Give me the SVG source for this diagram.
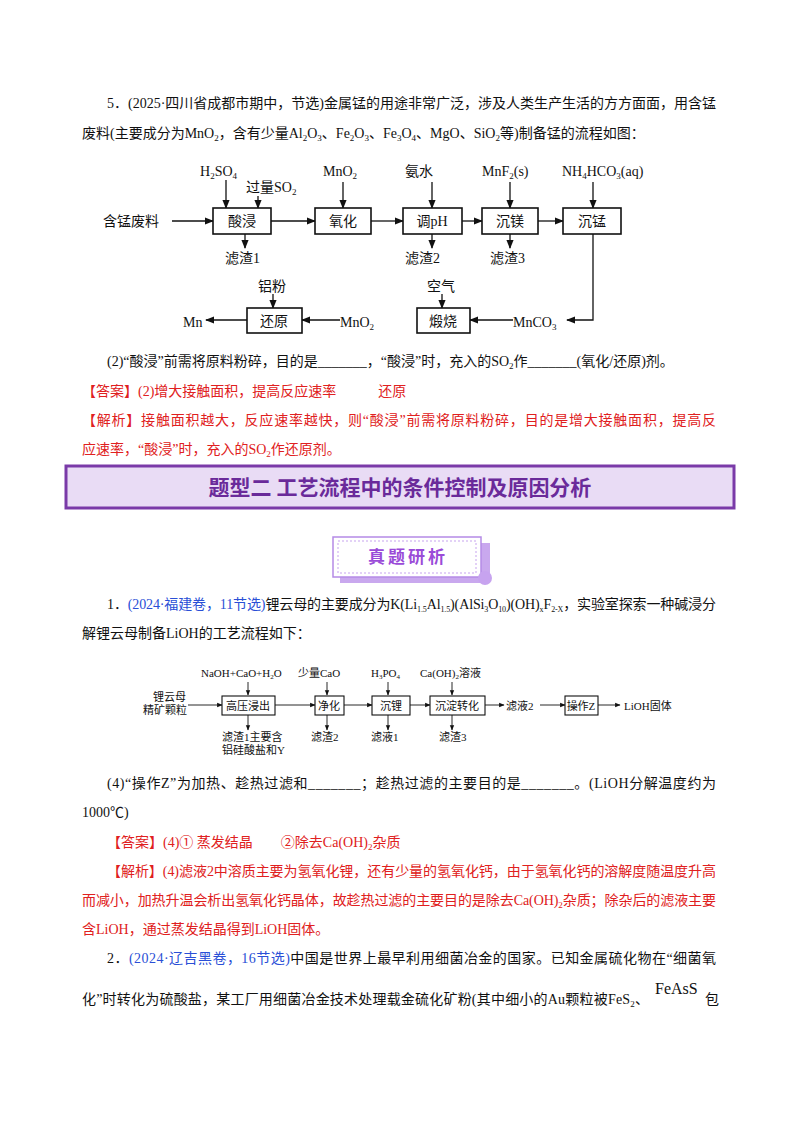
<svg xmlns="http://www.w3.org/2000/svg" width="800" height="1132" viewBox="0 0 800 1132">
<defs>
<style>
text{font-family:"Liberation Serif","Noto Sans CJK SC",serif;font-size:14px;fill:#111}
.d{font-size:14px}
.s{font-size:11px}
.red{fill:#e02020}
.blue{fill:#2a4fd6}
.box{fill:#fff;stroke:#111;stroke-width:1.6}
.box2{fill:#fff;stroke:#111;stroke-width:1.1}
.ln{stroke:#111;stroke-width:1.3;fill:none}
.ln2{stroke:#111;stroke-width:0.9;fill:none}
</style>
<marker id="a" viewBox="0 0 10 10" refX="9" refY="5" markerWidth="7" markerHeight="7" orient="auto"><path d="M0,1L10,5L0,9z" fill="#111"/></marker>
<marker id="b" viewBox="0 0 10 10" refX="9" refY="5" markerWidth="6" markerHeight="6" orient="auto"><path d="M0,1L10,5L0,9z" fill="#111"/></marker>
</defs>
<rect width="800" height="1132" fill="#fff"/>

<text x="107" y="108" textLength="609" lengthAdjust="spacing">5．(2025·四川省成都市期中，节选)金属锰的用途非常广泛，涉及人类生产生活的方方面面，用含锰</text>
<text x="82" y="138">废料(主要成分为MnO<tspan font-size="9" dy="3">2</tspan><tspan dy="-3">，含有少量Al</tspan><tspan font-size="9" dy="3">2</tspan><tspan dy="-3">O</tspan><tspan font-size="9" dy="3">3</tspan><tspan dy="-3">、Fe</tspan><tspan font-size="9" dy="3">2</tspan><tspan dy="-3">O</tspan><tspan font-size="9" dy="3">3</tspan><tspan dy="-3">、Fe</tspan><tspan font-size="9" dy="3">3</tspan><tspan dy="-3">O</tspan><tspan font-size="9" dy="3">4</tspan><tspan dy="-3">、MgO、SiO</tspan><tspan font-size="9" dy="3">2</tspan><tspan dy="-3">等)制备锰的流程如图：</tspan></text>

<g id="connectors1">
<line class="ln" x1="172" y1="221" x2="213" y2="221" marker-end="url(#a)"/>
<line class="ln" x1="271" y1="221" x2="315" y2="221" marker-end="url(#a)"/>
<line class="ln" x1="371" y1="221" x2="403" y2="221" marker-end="url(#a)"/>
<line class="ln" x1="462" y1="221" x2="482" y2="221" marker-end="url(#a)"/>
<line class="ln" x1="538" y1="221" x2="563" y2="221" marker-end="url(#a)"/>
<line class="ln" x1="226" y1="180" x2="226" y2="208" marker-end="url(#a)"/>
<line class="ln" x1="258" y1="196" x2="258" y2="208" marker-end="url(#a)"/>
<line class="ln" x1="343" y1="182" x2="343" y2="208" marker-end="url(#a)"/>
<line class="ln" x1="432" y1="182" x2="432" y2="208" marker-end="url(#a)"/>
<line class="ln" x1="510" y1="182" x2="510" y2="208" marker-end="url(#a)"/>
<line class="ln" x1="593" y1="182" x2="593" y2="208" marker-end="url(#a)"/>
<line class="ln" x1="245" y1="234" x2="245" y2="248" marker-end="url(#a)"/>
<line class="ln" x1="432" y1="234" x2="432" y2="248" marker-end="url(#a)"/>
<line class="ln" x1="510" y1="234" x2="510" y2="248" marker-end="url(#a)"/>
<polyline class="ln" points="593,234 593,320 567,320" marker-end="url(#a)"/>
<line class="ln" x1="513" y1="320" x2="470" y2="320" marker-end="url(#a)"/>
<line class="ln" x1="340" y1="320" x2="302" y2="320" marker-end="url(#a)"/>
<line class="ln" x1="247" y1="320" x2="206" y2="320" marker-end="url(#a)"/>
<line class="ln" x1="442" y1="294" x2="442" y2="308" marker-end="url(#a)"/>
<line class="ln" x1="273" y1="294" x2="273" y2="308" marker-end="url(#a)"/>
</g>
<g id="n-suanjin"><rect class="box" x="213" y="208" width="58" height="26"/><text class="d" x="242" y="226" text-anchor="middle">酸浸</text></g>
<g id="n-yanghua"><rect class="box" x="315" y="208" width="56" height="26"/><text class="d" x="343" y="226" text-anchor="middle">氧化</text></g>
<g id="n-tiaoph"><rect class="box" x="403" y="208" width="59" height="26"/><text class="d" x="432" y="226" text-anchor="middle">调pH</text></g>
<g id="n-chenmei"><rect class="box" x="482" y="208" width="56" height="26"/><text class="d" x="510" y="226" text-anchor="middle">沉镁</text></g>
<g id="n-chenmeng"><rect class="box" x="563" y="208" width="58" height="26"/><text class="d" x="592" y="226" text-anchor="middle">沉锰</text></g>
<g id="n-duanshao"><rect class="box" x="417" y="308" width="53" height="25"/><text class="d" x="443" y="326" text-anchor="middle">煅烧</text></g>
<g id="n-huanyuan"><rect class="box" x="247" y="308" width="55" height="25"/><text class="d" x="274" y="326" text-anchor="middle">还原</text></g>
<g id="labels1">
<text class="d" x="103" y="226">含锰废料</text>
<text class="d" x="200" y="176">H<tspan font-size="9" dy="3">2</tspan><tspan dy="-3">SO</tspan><tspan font-size="9" dy="3">4</tspan></text>
<text class="d" x="246" y="192">过量SO<tspan font-size="9" dy="3">2</tspan></text>
<text class="d" x="323" y="176">MnO<tspan font-size="9" dy="3">2</tspan></text>
<text class="d" x="405" y="176">氨水</text>
<text class="d" x="482" y="176">MnF<tspan font-size="9" dy="3">2</tspan><tspan dy="-3">(s)</tspan></text>
<text class="d" x="562" y="176">NH<tspan font-size="9" dy="3">4</tspan><tspan dy="-3">HCO</tspan><tspan font-size="9" dy="3">3</tspan><tspan dy="-3">(aq)</tspan></text>
<text class="d" x="225" y="263">滤渣1</text>
<text class="d" x="405" y="263">滤渣2</text>
<text class="d" x="490" y="263">滤渣3</text>
<text class="d" x="258" y="291">铝粉</text>
<text class="d" x="427" y="291">空气</text>
<text class="d" x="513" y="327">MnCO<tspan font-size="9" dy="3">3</tspan></text>
<text class="d" x="340" y="327">MnO<tspan font-size="9" dy="3">2</tspan></text>
<text class="d" x="183" y="327">Mn</text>
</g>

<text x="107" y="366">(2)“酸浸”前需将原料粉碎，目的是_______，“酸浸”时，充入的SO<tspan font-size="9" dy="3">2</tspan><tspan dy="-3">作_______(氧化/还原)剂。</tspan></text>
<text x="82" y="396" class="red">【答案】(2)增大接触面积，提高反应速率　　　还原</text>
<text x="82" y="425" class="red" textLength="634" lengthAdjust="spacing">【解析】接触面积越大，反应速率越快，则“酸浸”前需将原料粉碎，目的是增大接触面积，提高反</text>
<text x="82" y="454" class="red">应速率，“酸浸”时，充入的SO<tspan font-size="9" dy="3">2</tspan><tspan dy="-3">作还原剂。</tspan></text>

<g id="banner">
<rect x="66" y="466" width="668" height="42" fill="#e9dcf5" stroke="#7a3aa8" stroke-width="3"/>
<text x="400" y="495" text-anchor="middle" style="font-family:'Noto Sans CJK SC',sans-serif;font-size:21px;font-weight:bold;fill:#6a2a9a">题型二  工艺流程中的条件控制及原因分析</text>
</g>
<g id="badge">
<rect x="340" y="543" width="150" height="40" fill="#c9a8ee"/>
<rect x="333" y="537" width="148" height="40" fill="#fff" stroke="#b58be6" stroke-width="1.5"/>
<rect x="338" y="541" width="138" height="32" fill="none" stroke="#c7a3ef" stroke-width="1" stroke-dasharray="2,2"/>
<circle cx="485" cy="578" r="7" fill="#c7a3ef"/>
<text x="408" y="563" text-anchor="middle" style="font-family:'Noto Sans CJK SC',sans-serif;font-size:17px;font-weight:bold;fill:#9a4bd8;letter-spacing:3px">真题研析</text>
</g>

<text x="107" y="609" textLength="609" lengthAdjust="spacing">1．<tspan class="blue">(2024·福建卷，11节选)</tspan>锂云母的主要成分为K(Li<tspan font-size="8" dy="3">1.5</tspan><tspan dy="-3">Al</tspan><tspan font-size="8" dy="3">1.5</tspan><tspan dy="-3">)(AlSi</tspan><tspan font-size="8" dy="3">3</tspan><tspan dy="-3">O</tspan><tspan font-size="8" dy="3">10</tspan><tspan dy="-3">)(OH)</tspan><tspan font-size="8" dy="3">x</tspan><tspan dy="-3">F</tspan><tspan font-size="8" dy="3">2-X</tspan><tspan dy="-3">，实验室探索一种碱浸分</tspan></text>
<text x="82" y="638">解锂云母制备LiOH的工艺流程如下：</text>

<g id="connectors2">
<line class="ln2" x1="188" y1="705" x2="222" y2="705" marker-end="url(#b)"/>
<line class="ln2" x1="275" y1="705" x2="315" y2="705" marker-end="url(#b)"/>
<line class="ln2" x1="344" y1="705" x2="372" y2="705" marker-end="url(#b)"/>
<line class="ln2" x1="410" y1="705" x2="430" y2="705" marker-end="url(#b)"/>
<line class="ln2" x1="485" y1="705" x2="504" y2="705" marker-end="url(#b)"/>
<line class="ln2" x1="540" y1="705" x2="565" y2="705" marker-end="url(#b)"/>
<line class="ln2" x1="598" y1="705" x2="620" y2="705" marker-end="url(#b)"/>
<line class="ln2" x1="248" y1="682" x2="248" y2="695" marker-end="url(#b)"/>
<line class="ln2" x1="327" y1="682" x2="327" y2="695" marker-end="url(#b)"/>
<line class="ln2" x1="388" y1="682" x2="388" y2="695" marker-end="url(#b)"/>
<line class="ln2" x1="452" y1="682" x2="452" y2="695" marker-end="url(#b)"/>
<line class="ln2" x1="248" y1="715" x2="248" y2="730" marker-end="url(#b)"/>
<line class="ln2" x1="327" y1="715" x2="327" y2="730" marker-end="url(#b)"/>
<line class="ln2" x1="388" y1="715" x2="388" y2="730" marker-end="url(#b)"/>
<line class="ln2" x1="452" y1="715" x2="452" y2="730" marker-end="url(#b)"/>
</g>
<g id="n-gaoya"><rect class="box2" x="222" y="696" width="53" height="19"/><text class="s" x="248" y="710" text-anchor="middle">高压浸出</text></g>
<g id="n-jinghua"><rect class="box2" x="315" y="696" width="29" height="19"/><text class="s" x="329" y="710" text-anchor="middle">净化</text></g>
<g id="n-chenli"><rect class="box2" x="372" y="696" width="38" height="19"/><text class="s" x="391" y="710" text-anchor="middle">沉锂</text></g>
<g id="n-zhuanhua"><rect class="box2" x="430" y="696" width="55" height="19"/><text class="s" x="457" y="710" text-anchor="middle">沉淀转化</text></g>
<g id="n-caozuo"><rect class="box2" x="565" y="696" width="33" height="19"/><text class="s" x="581" y="710" text-anchor="middle">操作Z</text></g>
<g id="labels2">
<text class="s" x="153" y="701">锂云母</text>
<text class="s" x="143" y="714">精矿颗粒</text>
<text class="s" x="201" y="677">NaOH+CaO+H<tspan font-size="7" dy="2">2</tspan><tspan dy="-2">O</tspan></text>
<text class="s" x="298" y="677">少量CaO</text>
<text class="s" x="371" y="677">H<tspan font-size="7" dy="2">3</tspan><tspan dy="-2">PO</tspan><tspan font-size="7" dy="2">4</tspan></text>
<text class="s" x="420" y="677">Ca(OH)<tspan font-size="7" dy="2">2</tspan><tspan dy="-2">溶液</tspan></text>
<text class="s" x="506" y="710">滤液2</text>
<text class="s" x="624" y="710">LiOH固体</text>
<text class="s" x="222" y="741">滤渣1主要含</text>
<text class="s" x="222" y="754">铝硅酸盐和Y</text>
<text class="s" x="311" y="741">滤渣2</text>
<text class="s" x="371" y="741">滤液1</text>
<text class="s" x="439" y="741">滤渣3</text>
</g>

<text x="107" y="788" textLength="609" lengthAdjust="spacing">(4)“操作Z”为加热、趁热过滤和_______；趁热过滤的主要目的是_______。(LiOH分解温度约为</text>
<text x="82" y="817">1000℃)</text>
<text x="107" y="847" class="red">【答案】(4)①  蒸发结晶　　②除去Ca(OH)<tspan font-size="9" dy="3">2</tspan><tspan dy="-3">杂质</tspan></text>
<text x="107" y="876" class="red" textLength="609" lengthAdjust="spacing">【解析】(4)滤液2中溶质主要为氢氧化锂，还有少量的氢氧化钙，由于氢氧化钙的溶解度随温度升高</text>
<text x="82" y="905" class="red" textLength="634" lengthAdjust="spacing">而减小，加热升温会析出氢氧化钙晶体，故趁热过滤的主要目的是除去Ca(OH)<tspan font-size="9" dy="3">2</tspan><tspan dy="-3">杂质；除杂后的滤液主要</tspan></text>
<text x="82" y="934" class="red">含LiOH，通过蒸发结晶得到LiOH固体。</text>
<text x="107" y="963" textLength="609" lengthAdjust="spacing">2．<tspan class="blue">(2024·辽吉黑卷，16节选)</tspan>中国是世界上最早利用细菌冶金的国家。已知金属硫化物在“细菌氧</text>
<text x="82" y="1004" textLength="567" lengthAdjust="spacing">化”时转化为硫酸盐，某工厂用细菌冶金技术处理载金硫化矿粉(其中细小的Au颗粒被FeS<tspan font-size="9" dy="3">2</tspan><tspan dy="-3">、</tspan></text>
<text x="655" y="994" style="font-size:16px">FeAsS</text>
<text x="705" y="1004">包</text>
</svg>
